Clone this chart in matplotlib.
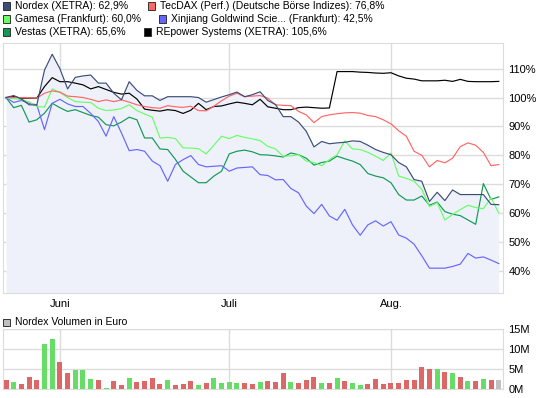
import numpy as np
import matplotlib
matplotlib.use("Agg")
import matplotlib.pyplot as plt
from matplotlib.patches import Rectangle

plt.rcParams['font.family'] = ['Liberation Sans', 'DejaVu Sans']

# trading days, index 0 = first day shown; month starts
month_pos = [7, 29, 50]
month_labels = ['Juni', 'Juli', 'Aug.']

# performance in % (start = 100)
nordex = [100, 100.7, 99.5, 97.5, 97.4, 109.5, 115, 110, 103, 107, 107.5, 107.8, 105, 105,
          101.5, 99.2, 105.5, 102.5, 100.6, 100.6, 99, 100.3, 100.3, 100.3, 100.3, 100, 98.4,
          99.3, 100.2, 101, 101.9, 100.3, 101, 102, 99, 97.6, 93.4, 93.4, 91.5, 88.3, 82.9,
          84.8, 84, 84.3, 84.5, 85, 84.8, 83.5, 82, 81, 80.2, 77.5, 76, 71.6, 71, 64, 67.2,
          64.3, 68, 66.4, 66.4, 66.4, 66.4, 63, 62.9]
tecdax = [100, 100, 100, 99.9, 99.8, 101.5, 102.3, 101.9, 100.5, 100.3, 100, 99.4, 98.6, 99.2,
          98.6, 99.2, 98.4, 97.5, 96.9, 96.5, 96.3, 97.2, 96.8, 96.6, 97, 95.5, 95.4, 97, 98.9,
          100.5, 101.5, 100.3, 100.5, 100.7, 99.8, 97.5, 97.3, 97.2, 95.2, 94, 91.3, 93.4, 94,
          94.4, 94.7, 94.8, 94.6, 93.8, 93.4, 92.3, 90.9, 88.5, 86.6, 81.4, 80, 76, 78.2, 77.4,
          79, 83, 84.3, 83.5, 81, 76.4, 76.8]
gamesa = [100, 99.6, 99.3, 98.5, 96.9, 96.7, 103, 101.8, 100, 98.6, 98.4, 98.3, 96.3, 95.5,
          95.7, 96.2, 97.5, 95.5, 94.3, 93.2, 86, 86.2, 85.8, 82.6, 82.5, 82.3, 80.5, 83.5, 86.6,
          85.8, 86.9, 86.2, 85.7, 85.1, 83.1, 82.2, 79.7, 79.8, 80.2, 78, 77.5, 76.4, 78.5, 80.2,
          85, 82.2, 82, 81, 79.7, 78.2, 80.8, 72.8, 72, 71, 68.2, 62.2, 63.6, 57.6, 59.5, 61.2,
          62.7, 61.9, 61.5, 65.3, 60]
goldwind = [100, 98.3, 99, 98, 97.5, 88.9, 98, 99.4, 97.8, 96.9, 96.9, 94.5, 91.7, 86.6, 93.4,
            87.7, 81.6, 82, 81.4, 78, 76.4, 71, 76.8, 78.5, 79.9, 76.8, 76, 76.2, 76.4, 74.5,
            75.6, 75.8, 76, 73.3, 73, 71.5, 71.6, 68.5, 67, 62.4, 59.8, 63, 59, 57.5, 61.3, 55.9,
            52.3, 55.9, 57.3, 55.5, 57, 52.4, 51.3, 49.2, 45.2, 40.9, 40.9, 40.9, 41.5, 42.3, 46,
            44.4, 44.8, 43.7, 42.5]
vestas = [100, 96.5, 97.3, 91.5, 92.3, 94.6, 98, 96.5, 95.2, 95.8, 94.8, 93.8, 93.2, 90.6, 90.2,
          91.5, 93.2, 92.3, 86, 86, 82.2, 82, 78.6, 74.5, 72.5, 70.5, 70.5, 72.8, 74.5, 80.5,
          81.4, 81.8, 81.2, 80.2, 80.1, 79.8, 79.4, 80.8, 80.2, 79, 76.6, 77.5, 78, 79.7, 78.8,
          78, 76.8, 73.7, 72.8, 72.2, 70.5, 66.4, 64.5, 64.5, 65.9, 62.7, 63.8, 60.5, 59.6, 59.1,
          57.6, 56.1, 70.2, 64.7, 65.6]
repower = [100, 100.3, 99.8, 99.8, 99.8, 103.8, 106.9, 105.5, 105.5, 105, 104.4, 103, 103.8,
           102.8, 101.8, 101.2, 101.5, 99.5, 96, 95.6, 95.3, 95.8, 95.5, 94.5, 95.6, 98, 95.8,
           96.9, 97.1, 97.8, 98.4, 98, 97.5, 99.4, 96.8, 96.3, 95.8, 95.8, 96.5, 96.7, 96.5,
           96.3, 96.4, 109, 109, 109, 108.8, 108.7, 108.5, 108.4, 108.6, 107.5, 106.7, 106.4,
           105.8, 105.8, 105.8, 106, 105.6, 106.3, 105.6, 105.5, 105.5, 105.5, 105.6]

# Nordex volume in million euro; u = up day, d = down day, n = today
volume = [2.3, 1.8, 1.3, 3.1, 2.3, 11.3, 12.6, 6.8, 4.1, 4.8, 4.8, 2.6, 2.3, 0.3, 2.1, 1.1, 2.8,
          1.8, 2.1, 2.8, 1.3, 2.3, 1.1, 1.3, 2.1, 1.1, 1.6, 2.8, 1.6, 1.8, 1.6, 1.6, 1.3, 1.8, 2.1,
          1.8, 4.1, 1.8, 1.6, 2.3, 3.1, 1.6, 1.6, 2.8, 2.1, 1.6, 1.1, 1.3, 2.6, 1.3, 1.6, 1.6, 2.3,
          2.3, 5.6, 5.1, 5.1, 4.3, 4.1, 3.1, 2.1, 2.1, 2.6, 2.3, 2.3]
vol_dir = ("duddduudduuududduddddudddudu"
           "uuuddudd"
           "dudddudud"
           "uu" "ddddddddd" "udududud"
           "n")

series = [
    ("Nordex (XETRA): 62,9%", nordex, "#3b4d78"),
    ("TecDAX (Perf.) (Deutsche Börse Indizes): 76,8%", tecdax, "#ff6666"),
    ("Gamesa (Frankfurt): 60,0%", gamesa, "#66ff66"),
    ("Xinjiang Goldwind Scie... (Frankfurt): 42,5%", goldwind, "#6666ff"),
    ("Vestas (XETRA): 65,6%", vestas, "#119955"),
    ("REpower Systems (XETRA): 105,6%", repower, "#000000"),
]

W, H = 545, 398
fig = plt.figure(figsize=(W / 100, H / 100), dpi=100)
grid_c = "#dcdcdc"


def px_axes(x0, y0, x1, y1):
    return fig.add_axes([x0 / W, 1 - y1 / H, (x1 - x0) / W, (y1 - y0) / H])


x = np.arange(len(nordex))

# main chart
ax = px_axes(3, 43, 503, 293)
ax.set_xlim(-0.39, 64.55)
ax.set_ylim(32.3, 118.9)
ax.fill_between(x, nordex, 0, color="#eef1fa", lw=0, zorder=1)
for name, vals, col in reversed(series):
    ax.plot(x, vals, color=col, lw=0.85, zorder=3)
ax.set_yticks(range(40, 111, 10))
ax.set_yticklabels([f"{v}%" for v in range(40, 111, 10)])
ax.set_xticks(month_pos)
ax.set_xticklabels(month_labels)
ax.yaxis.tick_right()
ax.grid(True, color=grid_c, lw=1, zorder=0)
ax.set_axisbelow(True)
ax.tick_params(length=0, labelsize=8, pad=4)
for s in ax.spines.values():
    s.set_color(grid_c)

# volume chart
vx = px_axes(3, 329.3, 503, 389.3)
vx.set_xlim(-0.39, 64.55)
vx.set_ylim(0, 15)
cmap = {"u": "#66dd66", "d": "#dd6666", "n": "#c0c0c0"}
vx.bar(x, volume, width=0.65, color=[cmap[c] for c in vol_dir], zorder=3)
vx.set_yticks([0, 5, 10, 15])
vx.set_yticklabels(["0M", "5M", "10M", "15M"])
vx.set_xticks(month_pos)
vx.set_xticklabels([])
vx.yaxis.tick_right()
vx.grid(True, color=grid_c, lw=1, zorder=0)
vx.set_axisbelow(True)
vx.tick_params(length=0, labelsize=8, pad=4)
for s in vx.spines.values():
    s.set_color(grid_c)

# legend (drawn in pixel coordinates)
leg_pos = [(3, 6), (148, 6), (3, 19), (159, 19), (3, 32), (144, 32)]
for (name, vals, col), (lx, ly) in zip(series, leg_pos):
    fig.patches.append(Rectangle((lx / W, 1 - (ly + 3.5) / H), 7 / W, 7 / H, transform=fig.transFigure,
                                 facecolor=col, edgecolor="#333333", lw=0.7))
    fig.text((lx + 12) / W, 1 - ly / H, name, fontsize=7.5, va="center", ha="left")

fig.patches.append(Rectangle((3 / W, 1 - 325.5 / H), 7 / W, 7 / H, transform=fig.transFigure,
                             facecolor="#c0c0c0", edgecolor="#333333", lw=0.7))
fig.text(15 / W, 1 - 322 / H, "Nordex Volumen in Euro", fontsize=7.5, va="center", ha="left")

fig.savefig("out.png", dpi=100)
